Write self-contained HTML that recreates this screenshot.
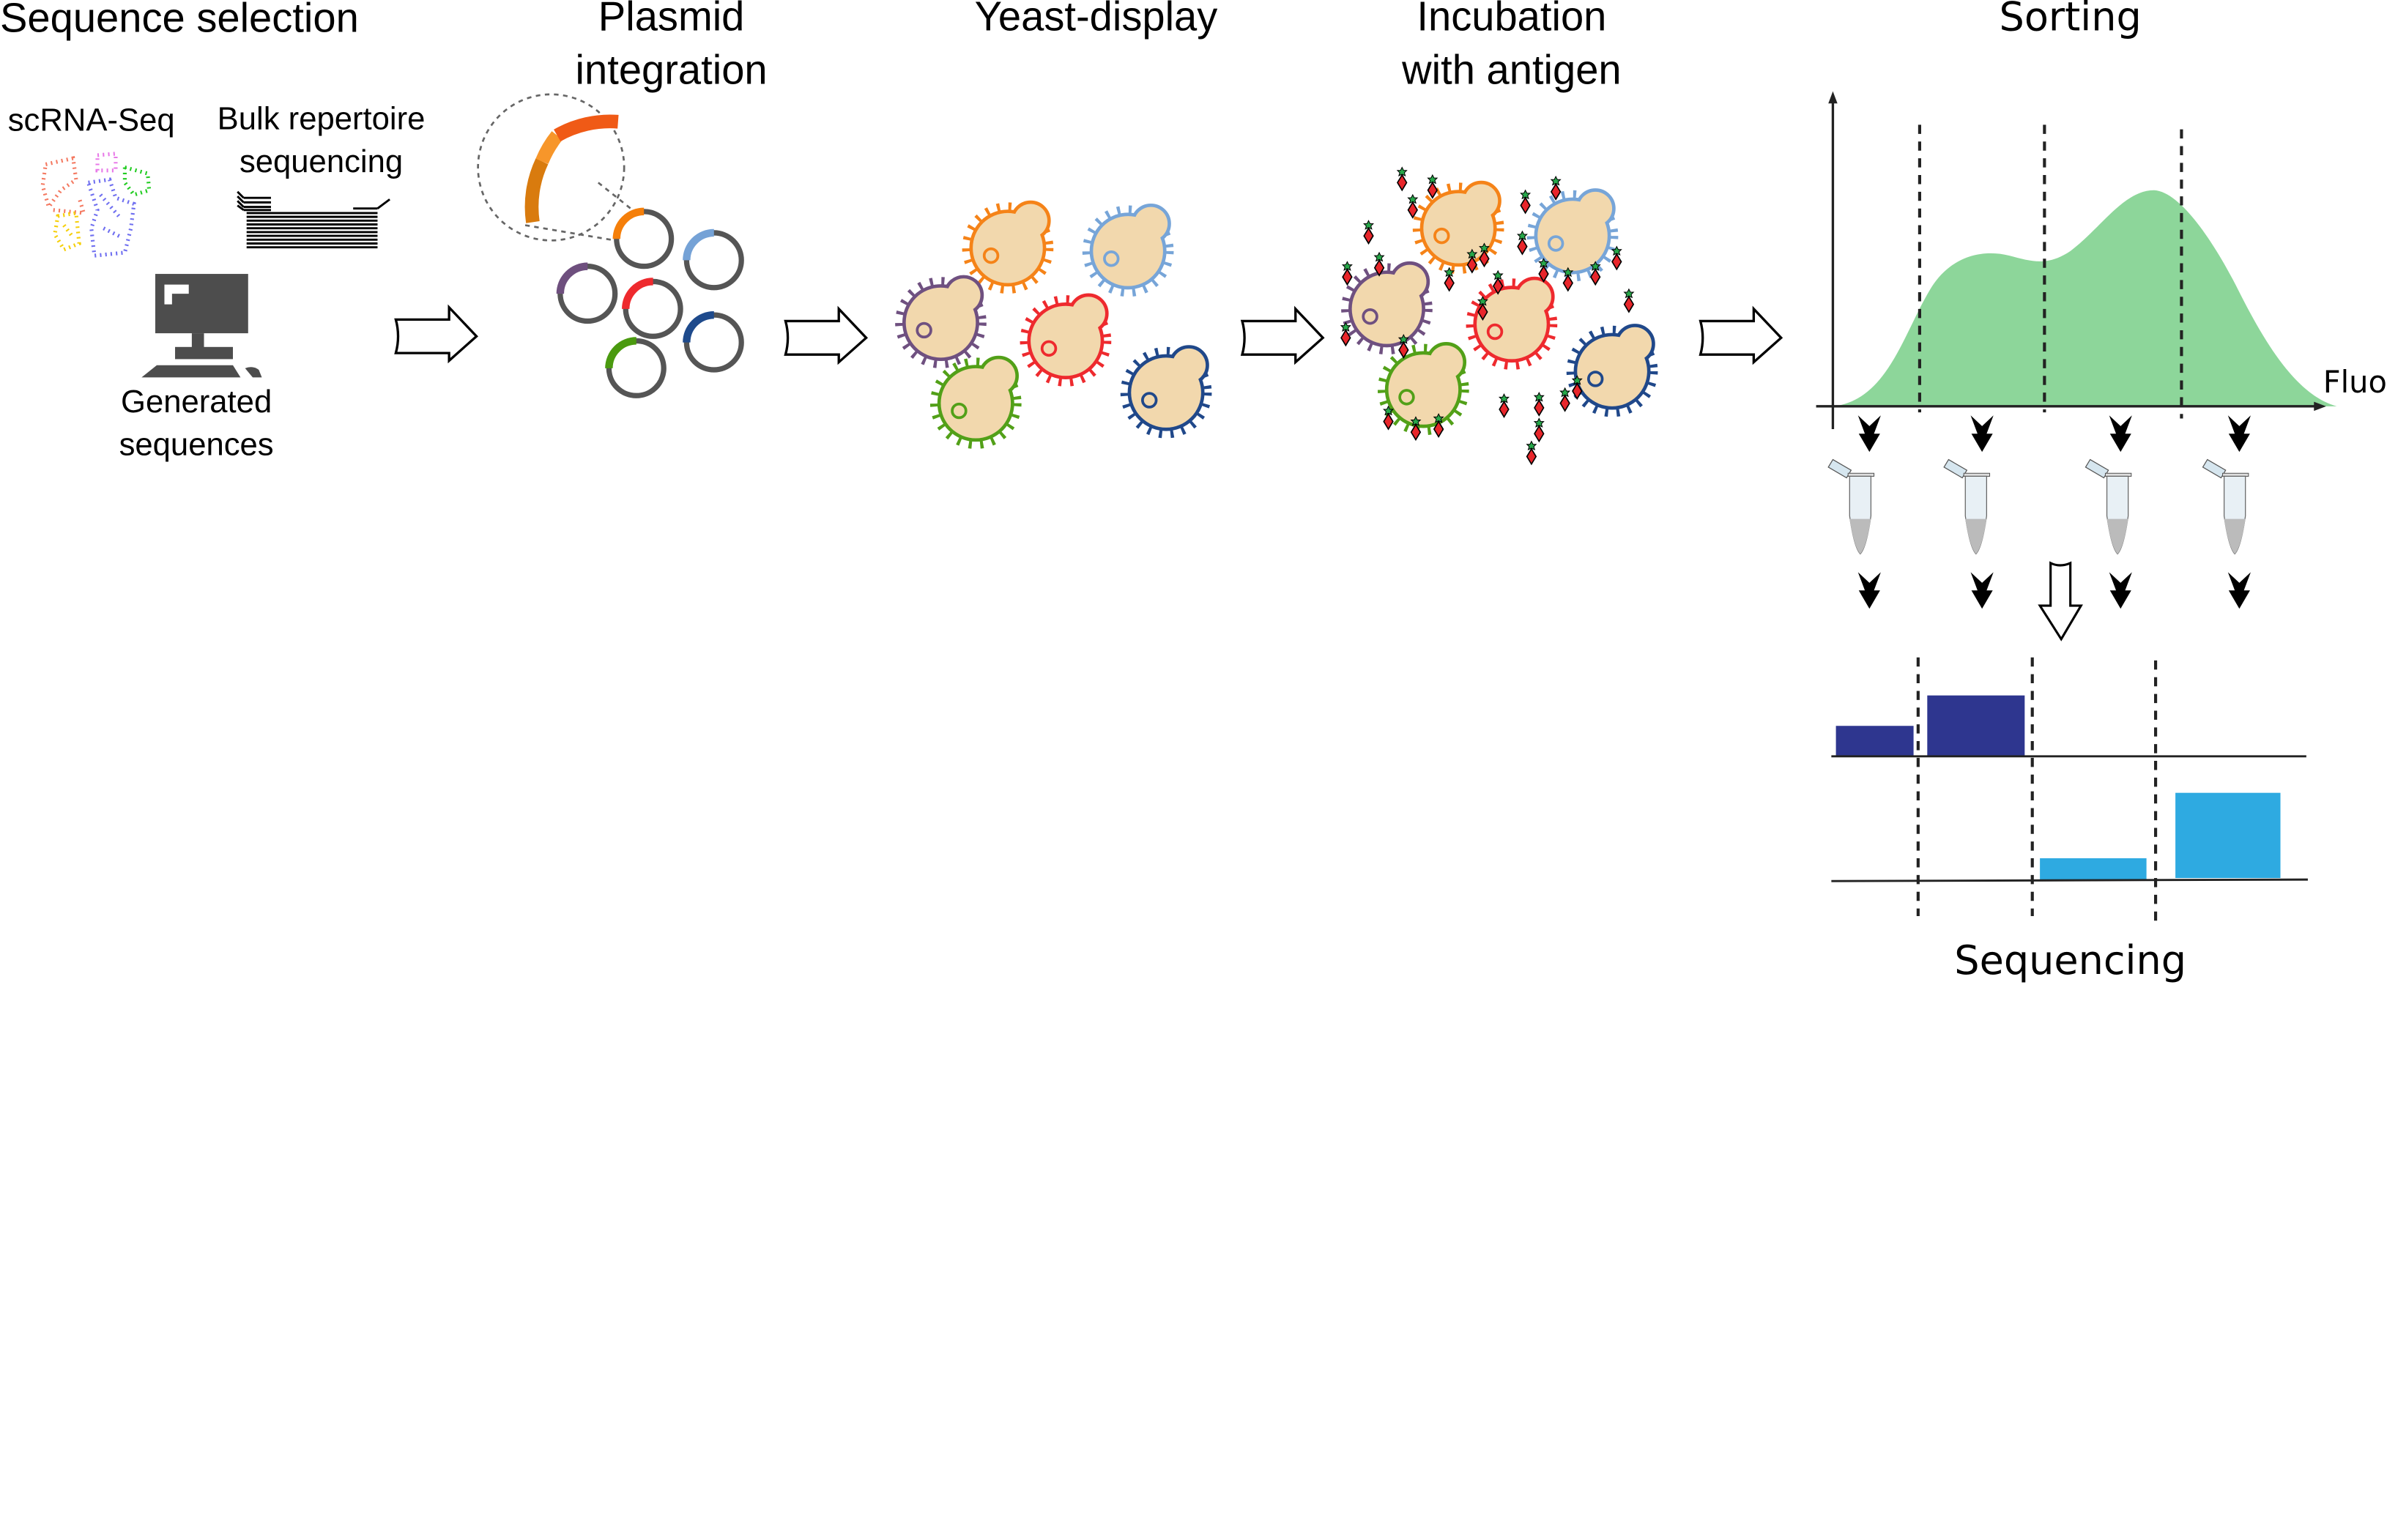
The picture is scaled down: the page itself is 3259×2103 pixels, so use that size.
<!DOCTYPE html>
<html><head><meta charset="utf-8"><style>
html,body{margin:0;padding:0;background:#fff;}
svg{display:block;}
text{font-family:"Liberation Sans",sans-serif;fill:#000;}
.w{font-family:"DejaVu Sans","Liberation Sans",sans-serif;}
</style></head><body>
<svg width="3259" height="2103" viewBox="0 0 1568 1012" preserveAspectRatio="none" xmlns="http://www.w3.org/2000/svg">
<defs>
<g id="yeast">
  <circle r="27" fill="none" stroke="currentColor" stroke-width="6" stroke-dasharray="2 5.5"/>
  <circle r="23" fill="none" stroke="currentColor" stroke-width="4.5"/>
  <circle cx="15" cy="-18" r="11" fill="none" stroke="currentColor" stroke-width="4.5"/>
  <circle r="23" fill="#f2d8ad"/>
  <circle cx="15" cy="-18" r="11" fill="#f2d8ad"/>
  <circle cx="-11" cy="5" r="4.5" fill="none" stroke="currentColor" stroke-width="1.8"/>
</g>
<g id="ag">
  <path d="M0,-5 L3,0 L0,5 L-3,0 Z" fill="#e8262b" stroke="#000" stroke-width="0.8"/>
  <path d="M0,-10 l1,2 2,0 -1.5,1.5 0.6,2 -2.1,-1 -2.1,1 0.6,-2 -1.5,-1.5 2,0z" fill="#27a84a" stroke="#000" stroke-width="0.5"/>
</g>
<path id="chev" d="M-7.5,0 L0,7 L7.5,0 L3,12 L7,12 L0,24 L-7,12 L-3,12 Z" fill="#000"/>
<path id="barrow" d="M0,-11 L35,-11 L35,-19 L53,0 L35,16 L35,11 L0,11 Q3,0 0,-11 Z" fill="#fff" stroke="#000" stroke-width="1.6"/>
<g id="pl">
  <circle r="18" fill="none" stroke="#555" stroke-width="3.5"/>
</g>
<g id="tube">
  <path d="M-7,-6 L5,1 L2,6 L-10,-1 Z" fill="#d6e6ef" stroke="#555" stroke-width="0.6"/>
  <rect x="3" y="3" width="17" height="2" fill="#ddd" stroke="#555" stroke-width="0.5"/>
  <path d="M4,5 L18,5 L18,31 Q15,52 11,56 Q7,52 4,31 Z" fill="#e8f0f5" stroke="#666" stroke-width="0.6"/>
  <path d="M4,33 L18,33 Q15,52 11,56 Q7,52 4,33 Z" fill="#bbb"/>
</g>
</defs>

<!-- Titles -->
<text x="0" y="21" font-size="27">Sequence selection</text>
<text x="441" y="20" font-size="27" text-anchor="middle">Plasmid</text>
<text x="441" y="55" font-size="27" text-anchor="middle">integration</text>
<text x="720" y="20" font-size="27" text-anchor="middle">Yeast-display</text>
<text x="993" y="20" font-size="27" text-anchor="middle">Incubation</text>
<text x="993" y="55" font-size="27" text-anchor="middle">with antigen</text>
<text class="w" x="1360" y="20" font-size="26" text-anchor="middle">Sorting</text>

<text x="60" y="86" font-size="21" text-anchor="middle">scRNA-Seq</text>
<text x="211" y="85" font-size="21" text-anchor="middle">Bulk repertoire</text>
<text x="211" y="113" font-size="21" text-anchor="middle">sequencing</text>

<!-- scatter -->
<g fill="none" stroke-width="2.5" stroke-dasharray="1 2.5">
  <path d="M30,108 L48,104 L50,118 L40,125 L32,136 L28,122 Z M35,138 L55,140 L52,130" stroke="#f47a62"/>
  <path d="M64,102 L76,101 L76,112 L64,112 Z" stroke="#e87ae8"/>
  <path d="M82,110 L97,114 L98,125 L88,128 L82,120 Z" stroke="#22cc22"/>
  <path d="M58,120 L72,118 L76,130 L88,134 L86,150 L82,166 L62,168 L60,150 L64,138 Z M66,128 L78,142 M68,150 L80,156" stroke="#6f6ff0"/>
  <path d="M38,142 L50,140 L52,160 L42,164 L36,154 Z M42,148 L48,156" stroke="#f5cf0a"/>
</g>

<!-- bulk lines -->
<g stroke="#000" stroke-width="1.4">
  <line x1="162" y1="140" x2="248" y2="140"/><line x1="162" y1="142.5" x2="248" y2="142.5"/>
  <line x1="162" y1="145" x2="248" y2="145"/><line x1="162" y1="147.5" x2="248" y2="147.5"/>
  <line x1="162" y1="150" x2="248" y2="150"/><line x1="162" y1="152.5" x2="248" y2="152.5"/>
  <line x1="162" y1="155" x2="248" y2="155"/><line x1="162" y1="157.5" x2="248" y2="157.5"/>
  <line x1="162" y1="160" x2="248" y2="160"/><line x1="162" y1="162.5" x2="248" y2="162.5"/>
  <line x1="156" y1="126" x2="160" y2="130"/><line x1="160" y1="130" x2="178" y2="130"/>
  <line x1="156" y1="129" x2="160" y2="133"/><line x1="160" y1="133" x2="178" y2="133"/>
  <line x1="156" y1="132" x2="160" y2="136"/><line x1="160" y1="136" x2="178" y2="136"/>
  <line x1="156" y1="135" x2="160" y2="138"/><line x1="160" y1="138" x2="178" y2="138"/>
  <line x1="232" y1="137" x2="248" y2="137"/><line x1="248" y1="137" x2="256" y2="131"/>
</g>

<!-- computer -->
<rect x="102" y="180" width="61" height="39" fill="#4d4d4d"/>
<path d="M108,187 L124,187 L124,193 L113,193 L113,200 L108,200 Z" fill="#fff"/>
<rect x="126" y="219" width="8" height="10" fill="#4d4d4d"/>
<rect x="115" y="228" width="38" height="8" fill="#4d4d4d"/>
<path d="M103,240 L153,240 L158,248 L93,248 Z" fill="#4d4d4d"/>
<path d="M161,242 Q166,240 170,243 L172,248 L166,248 Z" fill="#4d4d4d"/>
<text x="129" y="271" font-size="21" text-anchor="middle">Generated</text>
<text x="129" y="299" font-size="21" text-anchor="middle">sequences</text>

<!-- block arrows -->
<use href="#barrow" x="260" y="221"/>
<use href="#barrow" x="516" y="222"/>
<use href="#barrow" x="816" y="222"/>
<use href="#barrow" x="1117" y="222"/>

<!-- plasmid zoom -->
<circle cx="362" cy="110" r="48" fill="none" stroke="#666" stroke-width="1.3" stroke-dasharray="3 3"/>
<path d="M393,120 L418,140 M345,148 L404,158" stroke="#666" stroke-width="1.3" stroke-dasharray="3 3" fill="none"/>
<path d="M350,146 A70,70 0 0 1 356,106" fill="none" stroke="#d97b0e" stroke-width="9"/>
<path d="M356,106 A70,70 0 0 1 366,89" fill="none" stroke="#f7962a" stroke-width="9"/>
<path d="M366,89 A70,70 0 0 1 406,80" fill="none" stroke="#f05a16" stroke-width="9"/>

<!-- plasmids -->
<g>
  <use href="#pl" x="423" y="157"/><path d="M405,157 A18,18 0 0 1 423,139" fill="none" stroke="#f57f0a" stroke-width="5"/>
  <use href="#pl" x="469" y="171"/><path d="M451,171 A18,18 0 0 1 469,153" fill="none" stroke="#75a2d6" stroke-width="5"/>
  <use href="#pl" x="386" y="193"/><path d="M368,193 A18,18 0 0 1 386,175" fill="none" stroke="#6e4f7e" stroke-width="5"/>
  <use href="#pl" x="429" y="203"/><path d="M411,203 A18,18 0 0 1 429,185" fill="none" stroke="#ee2a2e" stroke-width="5"/>
  <use href="#pl" x="469" y="225"/><path d="M451,225 A18,18 0 0 1 469,207" fill="none" stroke="#1e4a8c" stroke-width="5"/>
  <use href="#pl" x="418" y="242"/><path d="M400,242 A18,18 0 0 1 418,224" fill="none" stroke="#4a9a0f" stroke-width="5"/>
</g>

<!-- yeast display -->
<use href="#yeast" x="662" y="163" style="color:#f58318"/>
<use href="#yeast" x="741" y="165" style="color:#77a5d8"/>
<use href="#yeast" x="618" y="212" style="color:#6f5080"/>
<use href="#yeast" x="700" y="224" style="color:#ee2a2e"/>
<use href="#yeast" x="641" y="265" style="color:#52a018"/>
<use href="#yeast" x="766" y="258" style="color:#20488a"/>

<!-- incubation -->
<use href="#yeast" x="958" y="150" style="color:#f58318"/>
<use href="#yeast" x="1033" y="155" style="color:#77a5d8"/>
<use href="#yeast" x="911" y="203" style="color:#6f5080"/>
<use href="#yeast" x="993" y="213" style="color:#ee2a2e"/>
<use href="#yeast" x="935" y="256" style="color:#52a018"/>
<use href="#yeast" x="1059" y="244" style="color:#20488a"/>
<g>
  <use href="#ag" x="921" y="120"/><use href="#ag" x="941" y="125"/><use href="#ag" x="928" y="138"/>
  <use href="#ag" x="899" y="155"/><use href="#ag" x="1022" y="126"/><use href="#ag" x="1002" y="135"/>
  <use href="#ag" x="885" y="182"/><use href="#ag" x="906" y="176"/><use href="#ag" x="884" y="222"/>
  <use href="#ag" x="975" y="170"/><use href="#ag" x="967" y="174"/><use href="#ag" x="1000" y="162"/>
  <use href="#ag" x="1014" y="180"/><use href="#ag" x="1030" y="186"/><use href="#ag" x="1048" y="182"/>
  <use href="#ag" x="1062" y="172"/><use href="#ag" x="1070" y="200"/><use href="#ag" x="952" y="186"/>
  <use href="#ag" x="974" y="205"/><use href="#ag" x="922" y="230"/><use href="#ag" x="1011" y="285"/>
  <use href="#ag" x="1036" y="257"/><use href="#ag" x="1028" y="265"/><use href="#ag" x="988" y="269"/>
  <use href="#ag" x="1011" y="268"/><use href="#ag" x="912" y="277"/><use href="#ag" x="930" y="284"/>
  <use href="#ag" x="945" y="282"/><use href="#ag" x="984" y="188"/><use href="#ag" x="1006" y="300"/>
</g>

<!-- sorting chart -->
<path d="M1205,267 C1240,262 1250,220 1268,190 C1280,170 1300,163 1320,168 C1335,172 1345,175 1360,165 C1380,150 1395,125 1415,125 C1435,126 1460,170 1470,190 C1490,230 1510,260 1535,267 Z" fill="#8dd69a"/>
<line x1="1204" y1="66" x2="1204" y2="282" stroke="#222" stroke-width="1.6"/>
<path d="M1201,68 L1204,60 L1207,68 Z" fill="#222"/>
<line x1="1193" y1="267" x2="1524" y2="267" stroke="#222" stroke-width="1.6"/>
<path d="M1520,264 L1528,267 L1520,270 Z" fill="#222"/>
<g stroke="#222" stroke-width="2" stroke-dasharray="6 5">
  <line x1="1261" y1="82" x2="1261" y2="271"/>
  <line x1="1343" y1="82" x2="1343" y2="271"/>
  <line x1="1433" y1="85" x2="1433" y2="275"/>
</g>
<text class="w" x="1526" y="258" font-size="20">Fluo</text>

<use href="#chev" x="1228" y="273"/><use href="#chev" x="1302" y="273"/>
<use href="#chev" x="1393" y="273"/><use href="#chev" x="1471" y="273"/>
<use href="#tube" x="1211" y="308"/><use href="#tube" x="1287" y="308"/>
<use href="#tube" x="1380" y="308"/><use href="#tube" x="1457" y="308"/>
<use href="#chev" x="1228" y="376"/><use href="#chev" x="1302" y="376"/>
<use href="#chev" x="1393" y="376"/><use href="#chev" x="1471" y="376"/>
<path d="M1347,370 Q1353,373 1360,370 L1360,398 L1367,398 L1354,420 L1340,398 L1347,398 Z" fill="#fff" stroke="#000" stroke-width="1.5"/>

<!-- bars -->
<rect x="1206" y="477" width="51" height="20" fill="#2e368f"/>
<rect x="1266" y="457" width="64" height="40" fill="#2e368f"/>
<line x1="1203" y1="497" x2="1515" y2="497" stroke="#222" stroke-width="1.4"/>
<rect x="1340" y="564" width="70" height="14" fill="#2eaae1"/>
<rect x="1429" y="521" width="69" height="56" fill="#2eaae1"/>
<line x1="1203" y1="579" x2="1516" y2="578" stroke="#222" stroke-width="1.4"/>
<g stroke="#222" stroke-width="2" stroke-dasharray="6 5">
  <line x1="1260" y1="432" x2="1260" y2="602"/>
  <line x1="1335" y1="432" x2="1335" y2="602"/>
  <line x1="1416" y1="434" x2="1416" y2="605"/>
</g>
<text class="w" x="1360" y="640" font-size="26" text-anchor="middle">Sequencing</text>
</svg>
</body></html>
